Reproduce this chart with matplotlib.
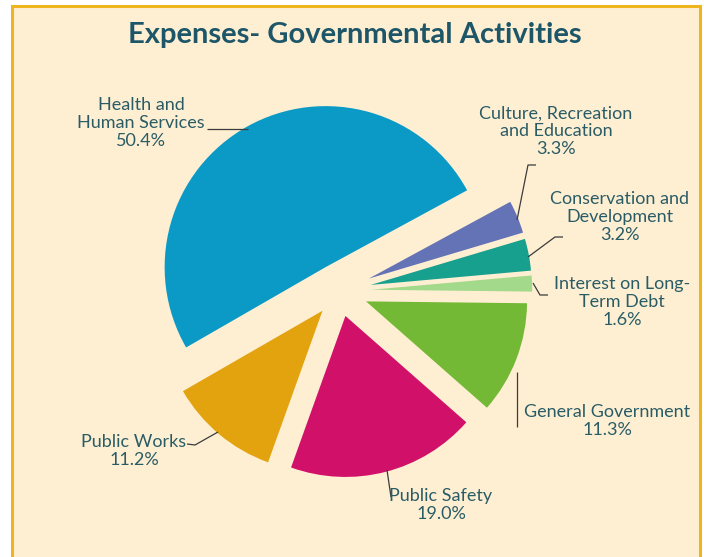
import matplotlib
matplotlib.use('Agg')
import matplotlib.pyplot as plt
from matplotlib.patches import Rectangle

# Governmental activities expenses, share of total (%)
categories = [
    "Culture, Recreation\nand Education",
    "Conservation and\nDevelopment",
    "Interest on Long-\nTerm Debt",
    "General Government",
    "Public Safety",
    "Public Works",
    "Health and\nHuman Services",
]
shares = [3.3, 3.2, 1.6, 11.3, 19.0, 11.2, 50.4]
colors = ["#6473B6", "#16A08D", "#A3D98A", "#74B935", "#D1106A", "#E3A30F", "#0B9AC6"]

BG = "#FEEFD3"
GOLD = "#EFB51F"
TEXT = "#2A5C66"
LEADER = "#3B3B3B"

W, H = 704, 557
R = 161  # pie radius in pixels

def py(y):
    # image rows run downward, axes y runs upward
    return H - y

# label centre (x, y) and leader polyline, in image pixels
label_pos = [(556, 131), (620, 217), (622, 302), (607, 421), (441, 505), (134, 451), (141, 123)]
leaders = [
    [(536, 165), (528, 165), (517, 220)],
    [(563, 237), (555, 237), (528, 257)],
    [(533, 283), (540, 295), (548, 295)],
    [(517, 372), (517, 427)],
    [(387, 470), (391, 497)],
    [(187, 444), (195, 445), (218, 432)],
    [(207, 129), (248, 129)],
]

fig = plt.figure(figsize=(W / 100, H / 100), dpi=100)
fig.patch.set_facecolor("white")
ax = fig.add_axes([0, 0, 1, 1])

ax.add_patch(Rectangle((12, -10), 688, py(6) + 10, facecolor=BG,
                       edgecolor=GOLD, linewidth=2.2, zorder=0))

# explode is in data units here, so scale by the radius
explode = [f * R for f in (0.2, 0.2, 0.2, 0.18, 0.16, 0.16, 0.17)]
ax.pie(shares, colors=colors, explode=explode, startangle=28.5,
       counterclock=False, center=(339, py(291)), radius=R,
       wedgeprops=dict(linewidth=0), frame=True)

for name, val, (x, y) in zip(categories, shares, label_pos):
    ax.text(x, py(y), f"{name}\n{val:.1f}%", ha="center", va="center",
            fontsize=13, color=TEXT, family="Lato", linespacing=1.12)

for pts in leaders:
    ax.plot([p[0] for p in pts], [py(p[1]) for p in pts],
            color=LEADER, linewidth=0.9, solid_capstyle="butt")

ax.text(355, py(35), "Expenses- Governmental Activities", ha="center",
        va="center", fontsize=21, fontweight="bold", color="#1C5668",
        family="Lato")

ax.set_xlim(0, W)
ax.set_ylim(0, H)
ax.set_aspect("equal")
ax.axis("off")

fig.savefig("out.png", dpi=100, facecolor=fig.get_facecolor())
